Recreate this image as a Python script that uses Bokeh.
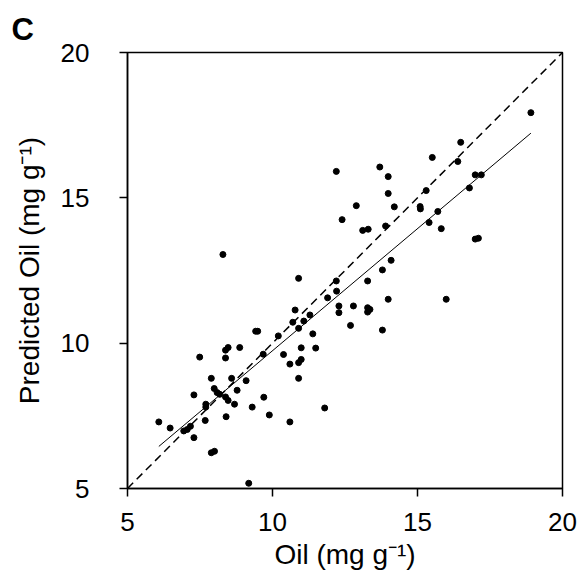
from bokeh.plotting import figure
from bokeh.models import Range1d, FixedTicker, ColumnDataSource
from bokeh.embed import file_html
from bokeh.resources import INLINE

# Measured oil (x) and predicted oil (y), mg g-1
oil = [18.91, 16.49, 15.51, 16.39, 12.20, 13.70, 13.99, 16.99, 17.20, 16.79,
       13.99, 15.30, 12.89, 14.20, 15.09, 15.10, 15.70, 12.40, 15.40, 15.82,
       13.11, 13.30, 13.90, 16.99, 17.10, 8.29, 14.09, 13.79, 10.90, 13.28,
       12.20, 12.21, 11.90, 13.99, 15.99, 12.29, 12.29, 12.79, 13.28, 13.36,
       13.28, 12.69, 13.79, 10.78, 10.70, 11.08, 11.29, 10.90, 11.39, 10.20,
       9.42, 9.49, 10.99, 11.49, 10.38, 10.99, 10.90, 10.60, 10.90, 9.68,
       8.87, 8.47, 8.38, 8.38, 7.49, 7.89, 8.59, 9.09, 7.99, 8.09,
       8.18, 8.38, 8.47, 8.78, 8.69, 7.29, 7.70, 7.70, 9.70, 9.30,
       9.89, 11.80, 10.60, 8.40, 7.68, 6.08, 6.47, 7.17, 7.06, 6.94,
       7.29, 7.89, 8.00, 9.18]
predicted = [17.93, 16.91, 16.39, 16.25, 15.91, 16.06, 15.73, 15.79, 15.79, 15.34,
             15.15, 15.25, 14.73, 14.69, 14.70, 14.62, 14.53, 14.25, 14.15, 13.94,
             13.88, 13.92, 14.03, 13.58, 13.61, 13.05, 12.85, 12.52, 12.23, 12.14,
             12.14, 11.79, 11.56, 11.51, 11.51, 11.28, 11.05, 11.28, 11.22, 11.16,
             11.07, 10.61, 10.45, 11.14, 10.72, 10.76, 10.97, 10.51, 10.32, 10.25,
             10.41, 10.41, 9.84, 9.83, 9.61, 9.44, 9.33, 9.28, 8.79, 9.62,
             9.85, 9.85, 9.76, 9.49, 9.52, 8.79, 8.79, 8.71, 8.44, 8.30,
             8.24, 8.15, 8.03, 8.38, 7.90, 8.22, 7.90, 7.80, 8.14, 7.80,
             7.53, 7.77, 7.29, 7.47, 7.34, 7.29, 7.08, 7.14, 7.03, 6.98,
             6.75, 6.23, 6.28, 5.18]

# Regression line (solid) and 1:1 line (dashed)
fit_slope = 0.840
fit_intercept = 1.34
fit_x = [6.08, 18.91]
identity = [5, 20]

ticks = [5, 10, 15, 20]
panel_label = "C"
x_label = "Oil (mg g\u207b\u00b9)"
y_label = "Predicted Oil (mg g\u207b\u00b9)"

FONT = "Liberation Sans"

p = figure(width=583, height=575, output_backend="svg", toolbar_location=None,
           x_range=Range1d(5, 20), y_range=Range1d(5, 20),
           min_border_left=127, min_border_right=21, min_border_top=52,
           min_border_bottom=87, background_fill_color="white",
           border_fill_color="white")

p.xgrid.visible = False
p.ygrid.visible = False
p.outline_line_color = "black"
p.outline_line_width = 1.5

for ax in (p.xaxis[0], p.yaxis[0]):
    ax.ticker = FixedTicker(ticks=ticks)
    ax.minor_tick_line_color = None
    ax.major_tick_in = 0
    ax.major_tick_out = 8
    ax.major_tick_line_width = 1.5
    ax.major_tick_line_color = "black"
    ax.axis_line_width = 1.5
    ax.axis_line_color = "black"
    ax.major_label_text_font = FONT
    ax.major_label_text_font_size = "26px"
    ax.major_label_text_color = "black"
    ax.axis_label_text_font = FONT
    ax.axis_label_text_font_size = "28px"
    ax.axis_label_text_font_style = "normal"
    ax.axis_label_text_color = "black"

p.xaxis.axis_label = x_label
p.yaxis.axis_label = y_label
p.xaxis.major_label_standoff = 16
p.xaxis.axis_label_standoff = 5
p.yaxis.major_label_standoff = 30
p.yaxis.axis_label_standoff = 13

p.title.text = panel_label
p.title.align = "left"
p.title.offset = -116
p.title.text_font = FONT
p.title.text_font_size = "31px"
p.title.text_font_style = "bold"
p.title.text_color = "black"
p.title.standoff = 12

p.line(identity, identity, line_color="black", line_width=1.5, line_dash="8 5")
fit_y = [fit_slope * v + fit_intercept for v in fit_x]
p.line(fit_x, fit_y, line_color="black", line_width=1)

src = ColumnDataSource(dict(x=oil, y=predicted))
p.scatter("x", "y", source=src, size=6, fill_color="black", line_color="black")

open("out.html", "w").write(file_html(p, INLINE))
